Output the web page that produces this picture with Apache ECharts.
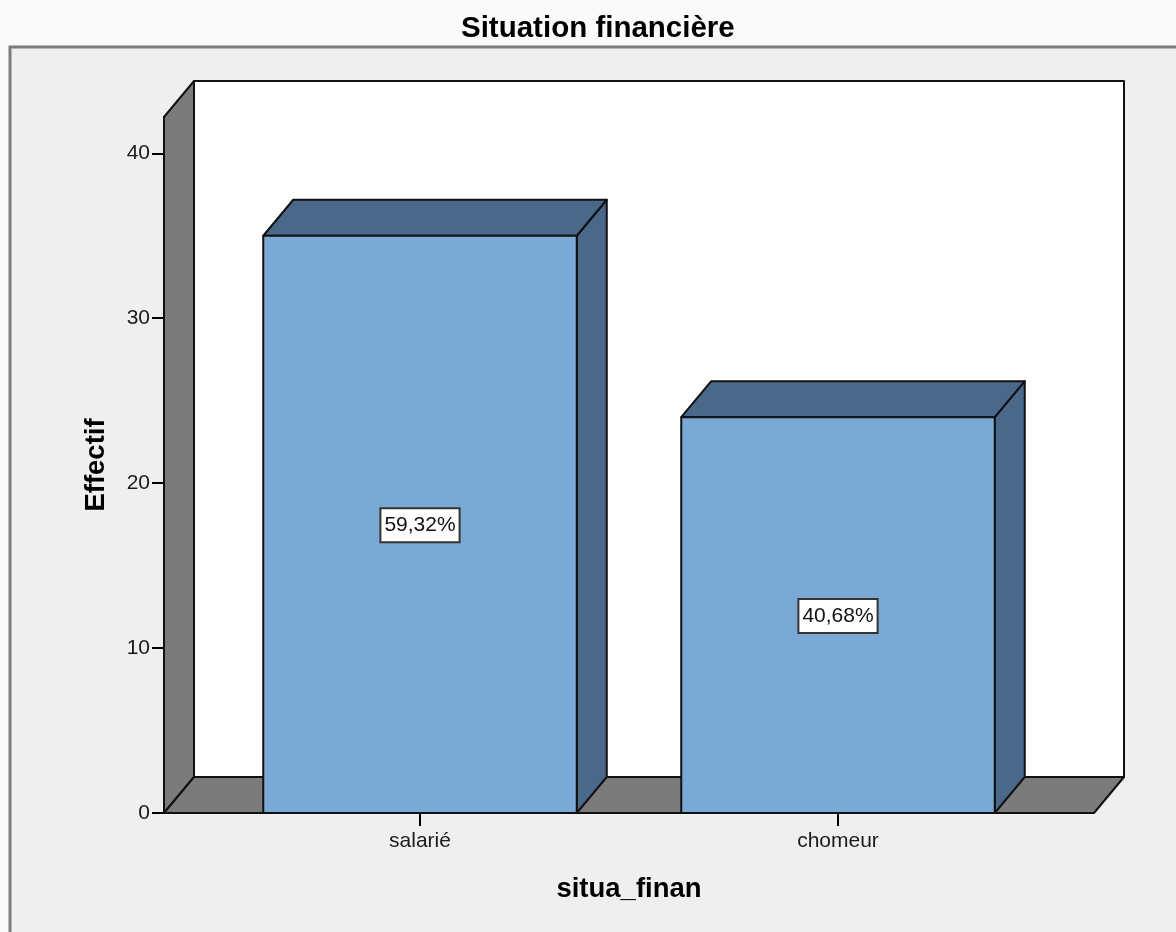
<!DOCTYPE html>
<html>
<head>
<meta charset="utf-8">
<script src="https://cdn.jsdelivr.net/npm/echarts@6/dist/echarts.min.js"></script>
<style>
html, body { margin: 0; padding: 0; background: #fafafa; }
#chart { width: 1176px; height: 932px; }
</style>
</head>
<body>
<div id="chart"></div>
<script>
// Data
const categories = ['salarié', 'chomeur'];
const counts = [35, 24];
const yTicks = [0, 10, 20, 30, 40];
const yMax = 42.2;
const chartTitle = 'Situation financière';
const xTitle = 'situa_finan';
const yTitle = 'Effectif';

// Percent labels derived from the counts (French decimal comma)
const total = counts.reduce((a, b) => a + b, 0);
const pctLabels = counts.map(v => (v / total * 100).toFixed(2).replace('.', ',') + '%');

// Style
const FONT = '"Liberation Sans", Arial, sans-serif';
const DX = 30, DY = -36;          // oblique depth offset
const WALL_PAD = 47;              // floor overhang beyond the category bands
const BAR_RATIO = 0.75;           // bar width as share of the band
const FRONT = '#7aa9d6';
const SHADE = '#4a6889';
const WALL = '#7b7b7b';
const LINE = '#111111';

const chart = echarts.init(document.getElementById('chart'), null, { renderer: 'canvas' });

// Back wall, left wall and floor of the 3D box
function renderWalls(params, api) {
  const cs = params.coordSys;
  const y0 = api.coord([0, 0])[1];
  const L = cs.x - WALL_PAD;
  const R = cs.x + cs.width + WALL_PAD;
  const T = cs.y;
  const stroke = { stroke: LINE, lineWidth: 2, lineJoin: 'round' };
  return {
    type: 'group',
    children: [
      { type: 'polygon', shape: { points: [[L + DX, T + DY], [R + DX, T + DY], [R + DX, y0 + DY], [L + DX, y0 + DY]] },
        style: Object.assign({ fill: '#ffffff' }, stroke) },
      { type: 'polygon', shape: { points: [[L, T], [L + DX, T + DY], [L + DX, y0 + DY], [L, y0]] },
        style: Object.assign({ fill: WALL }, stroke) },
      { type: 'polygon', shape: { points: [[L, y0], [R, y0], [R + DX, y0 + DY], [L + DX, y0 + DY]] },
        style: Object.assign({ fill: WALL }, stroke) }
    ]
  };
}

// 3D bar: front face, top and right side, with centred percent label
function renderBar(params, api) {
  const i = api.value(0);
  const v = api.value(1);
  const top = api.coord([i, v]);
  const base = api.coord([i, 0]);
  const w = api.size([1, 0])[0] * BAR_RATIO;
  const x0 = top[0] - w / 2, x1 = top[0] + w / 2;
  const yT = top[1], yB = base[1];
  const stroke = { stroke: LINE, lineWidth: 2, lineJoin: 'round' };
  return {
    type: 'group',
    children: [
      { type: 'polygon', shape: { points: [[x1, yT], [x1 + DX, yT + DY], [x1 + DX, yB + DY], [x1, yB]] },
        style: Object.assign({ fill: SHADE }, stroke) },
      { type: 'polygon', shape: { points: [[x0, yT], [x1, yT], [x1 + DX, yT + DY], [x0 + DX, yT + DY]] },
        style: Object.assign({ fill: SHADE }, stroke) },
      { type: 'rect', shape: { x: x0, y: yT, width: w, height: yB - yT },
        style: Object.assign({ fill: FRONT }, stroke) },
      { type: 'text', x: top[0], y: (yT + yB) / 2 + 1,
        style: {
          text: pctLabels[params.dataIndex],
          font: '21px ' + FONT,
          fill: '#111',
          align: 'center',
          verticalAlign: 'middle',
          lineHeight: 22,
          backgroundColor: '#ffffff',
          borderColor: '#333',
          borderWidth: 2,
          padding: [5, 3, 5, 3]
        } }
    ]
  };
}

const option = {
  backgroundColor: '#fafafa',
  animation: false,
  title: {
    text: chartTitle,
    left: 456,
    top: 9,
    textStyle: { fontFamily: FONT, fontSize: 29.5, fontWeight: 'bold', color: '#000' }
  },
  graphic: [{
    type: 'rect',
    z: -100,
    silent: true,
    shape: { x: 10, y: 47, width: 1300, height: 1000 },
    style: { fill: '#efefef', stroke: '#7d7d7d', lineWidth: 3 }
  }],
  grid: { left: 211, right: 129, top: 117, bottom: 119, containLabel: false, outerBoundsMode: 'none' },
  xAxis: {
    type: 'category',
    data: categories,
    axisLine: { show: false },
    axisTick: { show: true, alignWithLabel: true, length: 13, lineStyle: { color: '#000', width: 2 } },
    axisLabel: { margin: 18, fontSize: 21, color: '#1a1a1a', fontFamily: FONT },
    splitLine: { show: false },
    name: xTitle,
    nameLocation: 'middle',
    nameGap: 62,
    nameTextStyle: { fontFamily: FONT, fontSize: 27.5, fontWeight: 'bold', color: '#000' }
  },
  yAxis: {
    type: 'value',
    min: 0,
    max: yMax,
    offset: WALL_PAD,
    axisLine: { show: true, lineStyle: { color: '#000', width: 2 } },
    axisTick: { show: true, length: 12, customValues: yTicks, lineStyle: { color: '#000', width: 2 } },
    axisLabel: { customValues: yTicks, margin: 14, fontSize: 21, color: '#1a1a1a', fontFamily: FONT },
    splitLine: { show: false },
    name: yTitle,
    nameLocation: 'middle',
    nameGap: 54,
    nameTextStyle: { fontFamily: FONT, fontSize: 27.5, fontWeight: 'bold', color: '#000' }
  },
  series: [
    {
      type: 'custom',
      name: 'walls',
      z: 1,
      silent: true,
      clip: false,
      renderItem: renderWalls,
      data: [[0, 0]]
    },
    {
      type: 'custom',
      name: 'Effectif',
      z: 3,
      clip: false,
      renderItem: renderBar,
      encode: { x: 0, y: 1 },
      data: categories.map((c, i) => [i, counts[i]])
    }
  ]
};

chart.setOption(option);
</script>
</body>
</html>
